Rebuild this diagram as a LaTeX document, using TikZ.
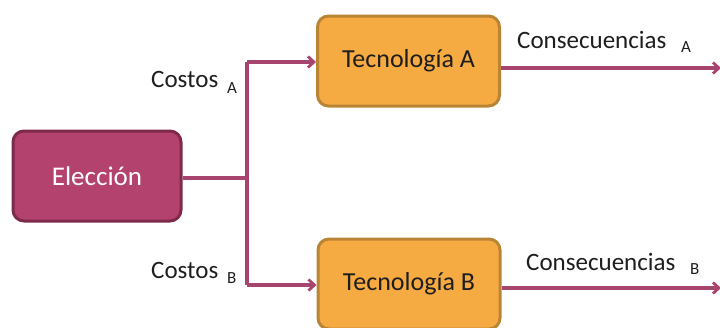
\documentclass[tikz,border=0pt]{standalone}
\usepackage{fontspec}
\setmainfont{Carlito}
\usetikzlibrary{arrows.meta}
\definecolor{elecfill}{HTML}{B3436E}
\definecolor{elecdraw}{HTML}{7E2A4C}
\definecolor{tecfill}{HTML}{F6AA42}
\definecolor{tecdraw}{HTML}{B98534}
\definecolor{linecol}{HTML}{A8456E}
\definecolor{txt}{HTML}{1E1E1E}
\tikzset{
  elecbox/.style={draw=elecdraw, fill=elecfill, line width=3pt, rounded corners=11pt, minimum width=168pt, minimum height=90pt, text=white, font=\fontsize{27}{30}\selectfont},
  tecbox/.style={draw=tecdraw, fill=tecfill, line width=3pt, rounded corners=11pt, minimum width=182pt, minimum height=90pt, text=txt, font=\fontsize{26}{29}\selectfont},
  conn/.style={draw=linecol, line width=3.2pt},
  arr/.style={conn, -{Straight Barb[length=6pt, width=11pt, line width=2.8pt]}},
  lbl/.style={font=\fontsize{25}{28}\selectfont, text=txt, inner sep=0pt},
  sub/.style={font=\fontsize{17}{19}\selectfont, text=txt, inner sep=0pt}
}
\begin{document}
\begin{tikzpicture}[x=1pt, y=-1pt]
\useasboundingbox (0,0) rectangle (720,327);
\node[elecbox] (el) at (97,176) {Elección};
\node[tecbox] (ta) at (408.5,61) {Tecnología A};
\node[tecbox] (tb) at (409,284) {Tecnología B};
\coordinate (j) at (247,178);
\coordinate (ja) at (247,62);
\coordinate (jb) at (247,285);
\coordinate (ea) at (721,68);
\coordinate (eb) at (721,288);
\draw[conn] (el.east |- j) -- (j);
\draw[conn] (ja) -- (jb);
\draw[arr] (ja) -- (ta.west |- ja);
\draw[arr] (jb) -- (tb.west |- jb);
\draw[arr] (ta.east |- ea) -- (ea);
\draw[arr] (tb.east |- eb) -- (eb);
\node[lbl, anchor=west] (ca) at (151,79) {Costos};
\node[sub, anchor=west] (cas) at (227,88) {A};
\node[lbl, anchor=west] (cb) at (151,270) {Costos};
\node[sub, anchor=west] (cbs) at (227,278) {B};
\node[lbl, anchor=west] (qa) at (517,40) {Consecuencias};
\node[sub, anchor=west] (qas) at (681,47) {A};
\node[lbl, anchor=west] (qb) at (526,262) {Consecuencias};
\node[sub, anchor=west] (qbs) at (690,269) {B};
\end{tikzpicture}
\end{document}
